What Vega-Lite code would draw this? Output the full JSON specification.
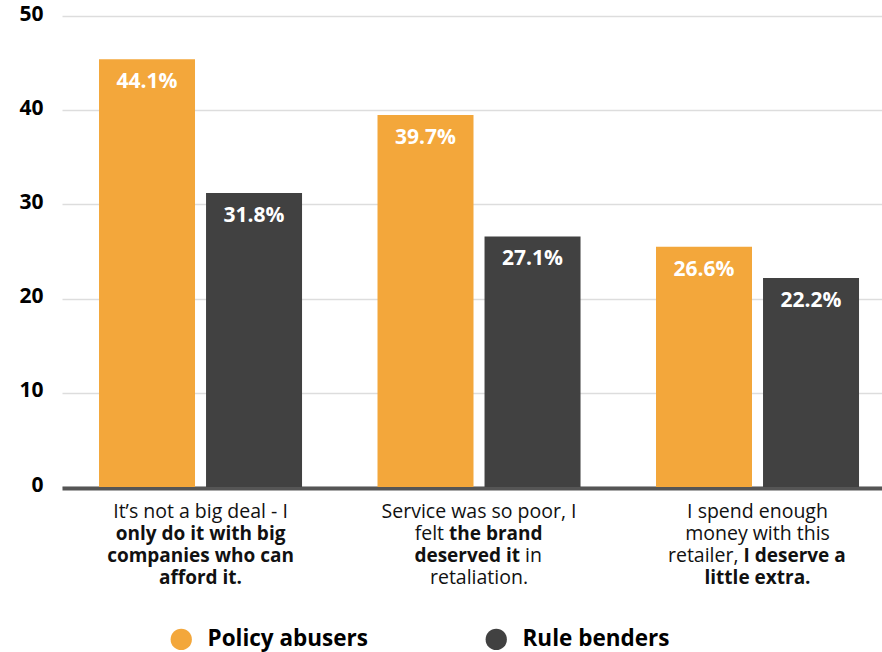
{
  "$schema": "https://vega.github.io/schema/vega-lite/v6.json",
  "width": 820,
  "height": 471,
  "autosize": {"type": "none"},
  "padding": {"left": 62, "top": 16, "right": 0, "bottom": 165},
  "background": "white",
  "config": {
    "font": "Open Sans",
    "view": {"stroke": null},
    "axisX": {"labels": false, "ticks": false, "grid": false, "domainColor": "#555555", "domainWidth": 4, "offset": 1},
    "axisY": {"ticks": false, "tickSize": 0, "domain": false, "grid": true, "gridColor": "#dddddd", "gridWidth": 1.5, "labelFont": "Open Sans", "labelFontWeight": "bold", "labelFontSize": 21, "labelColor": "#000000", "labelPadding": 19, "labelBaseline": "middle", "labelOffset": -2}
  },
  "datasets": {
    "bars": [
      {"reason": "It’s not a big deal - I only do it with big companies who can afford it.", "group": "Policy abusers", "value": 45.4, "label": "44.1%"},
      {"reason": "It’s not a big deal - I only do it with big companies who can afford it.", "group": "Rule benders", "value": 31.2, "label": "31.8%"},
      {"reason": "Service was so poor, I felt the brand deserved it in retaliation.", "group": "Policy abusers", "value": 39.5, "label": "39.7%"},
      {"reason": "Service was so poor, I felt the brand deserved it in retaliation.", "group": "Rule benders", "value": 26.6, "label": "27.1%"},
      {"reason": "I spend enough money with this retailer, I deserve a little extra.", "group": "Policy abusers", "value": 25.5, "label": "26.6%"},
      {"reason": "I spend enough money with this retailer, I deserve a little extra.", "group": "Rule benders", "value": 22.2, "label": "22.2%"}
    ],
    "regularTop": [
      {"reason": "It’s not a big deal - I only do it with big companies who can afford it.", "text": "It’s not a big deal - I"},
      {"reason": "Service was so poor, I felt the brand deserved it in retaliation.", "text": "Service was so poor, I"},
      {"reason": "I spend enough money with this retailer, I deserve a little extra.", "text": "I spend enough\nmoney with this"}
    ],
    "boldSecond": [
      {"reason": "It’s not a big deal - I only do it with big companies who can afford it.", "text": "only do it with big\ncompanies who can\nafford it."}
    ]
  },
  "layer": [
    {
      "data": {"name": "bars"},
      "mark": {"type": "bar"},
      "encoding": {
        "x": {"field": "reason", "type": "nominal", "sort": null, "title": null, "scale": {"paddingInner": 0.271, "paddingOuter": 0.1077, "align": 0.617}},
        "xOffset": {"field": "group", "type": "nominal", "sort": null, "scale": {"paddingInner": 0.103, "paddingOuter": 0}},
        "y": {"field": "value", "type": "quantitative", "title": null, "scale": {"domain": [0, 50], "nice": false}, "axis": {"values": [0, 10, 20, 30, 40, 50]}},
        "color": {
          "field": "group", "type": "nominal", "sort": null,
          "scale": {"domain": ["Policy abusers", "Rule benders"], "range": ["#F3A73B", "#414141"]},
          "legend": {"orient": "none", "legendX": 108, "legendY": 612, "direction": "horizontal", "title": null, "symbolType": "circle", "symbolSize": 452, "symbolStrokeWidth": 0, "labelFontSize": 22.5, "labelFontWeight": "bold", "labelColor": "#000000", "labelOffset": 15, "columnPadding": 117, "padding": 0, "labelLimit": 400}
        }
      }
    },
    {
      "data": {"name": "bars"},
      "mark": {"type": "text", "color": "white", "fontWeight": "bold", "fontSize": 21, "baseline": "middle", "align": "center", "dy": 23},
      "encoding": {
        "x": {"field": "reason", "type": "nominal", "sort": null, "title": null},
        "xOffset": {"field": "group", "type": "nominal", "sort": null},
        "y": {"field": "value", "type": "quantitative", "title": null},
        "text": {"field": "label", "type": "nominal"}
      }
    },
    {
      "data": {"name": "regularTop"},
      "mark": {"type": "text", "lineBreak": "\n", "lineHeight": 22, "fontSize": 19.5, "color": "#111111", "baseline": "alphabetic", "align": "center", "dy": 31},
      "encoding": {
        "x": {"field": "reason", "type": "nominal", "sort": null, "title": null},
        "y": {"datum": 0, "type": "quantitative", "title": null},
        "text": {"field": "text", "type": "nominal"}
      }
    },
    {
      "data": {"name": "boldSecond"},
      "mark": {"type": "text", "lineBreak": "\n", "lineHeight": 22, "fontSize": 19, "fontWeight": "bold", "color": "#111111", "baseline": "alphabetic", "align": "center", "dy": 53},
      "encoding": {
        "x": {"field": "reason", "type": "nominal", "sort": null, "title": null},
        "y": {"datum": 0, "type": "quantitative", "title": null},
        "text": {"field": "text", "type": "nominal"}
      }
    },
    {
      "data": {"values": [{"reason": "Service was so poor, I felt the brand deserved it in retaliation.", "text": "retaliation."}]},
      "mark": {"type": "text", "fontSize": 19.5, "color": "#111111", "baseline": "alphabetic", "align": "center", "dy": 97},
      "encoding": {
        "x": {"field": "reason", "type": "nominal", "sort": null, "title": null},
        "y": {"datum": 0, "type": "quantitative", "title": null},
        "text": {"field": "text", "type": "nominal"}
      }
    },
    {
      "data": {"values": [{"reason": "I spend enough money with this retailer, I deserve a little extra.", "text": "little extra."}]},
      "mark": {"type": "text", "fontSize": 19, "fontWeight": "bold", "color": "#111111", "baseline": "alphabetic", "align": "center", "dy": 97},
      "encoding": {
        "x": {"field": "reason", "type": "nominal", "sort": null, "title": null},
        "y": {"datum": 0, "type": "quantitative", "title": null},
        "text": {"field": "text", "type": "nominal"}
      }
    },
    {
      "data": {"values": [{"reason": "Service was so poor, I felt the brand deserved it in retaliation.", "text": "felt"}]},
      "mark": {"type": "text", "fontSize": 19.5, "color": "#111111", "baseline": "alphabetic", "align": "right", "dx": -35, "dy": 53},
      "encoding": {
        "x": {"field": "reason", "type": "nominal", "sort": null, "title": null},
        "y": {"datum": 0, "type": "quantitative", "title": null},
        "text": {"field": "text", "type": "nominal"}
      }
    },
    {
      "data": {"values": [{"reason": "Service was so poor, I felt the brand deserved it in retaliation.", "text": "the brand"}]},
      "mark": {"type": "text", "fontSize": 19, "fontWeight": "bold", "color": "#111111", "baseline": "alphabetic", "align": "left", "dx": -30, "dy": 53},
      "encoding": {
        "x": {"field": "reason", "type": "nominal", "sort": null, "title": null},
        "y": {"datum": 0, "type": "quantitative", "title": null},
        "text": {"field": "text", "type": "nominal"}
      }
    },
    {
      "data": {"values": [{"reason": "Service was so poor, I felt the brand deserved it in retaliation.", "text": "deserved it"}]},
      "mark": {"type": "text", "fontSize": 19, "fontWeight": "bold", "color": "#111111", "baseline": "alphabetic", "align": "right", "dx": 41, "dy": 75},
      "encoding": {
        "x": {"field": "reason", "type": "nominal", "sort": null, "title": null},
        "y": {"datum": 0, "type": "quantitative", "title": null},
        "text": {"field": "text", "type": "nominal"}
      }
    },
    {
      "data": {"values": [{"reason": "Service was so poor, I felt the brand deserved it in retaliation.", "text": "in"}]},
      "mark": {"type": "text", "fontSize": 19.5, "color": "#111111", "baseline": "alphabetic", "align": "left", "dx": 46, "dy": 75},
      "encoding": {
        "x": {"field": "reason", "type": "nominal", "sort": null, "title": null},
        "y": {"datum": 0, "type": "quantitative", "title": null},
        "text": {"field": "text", "type": "nominal"}
      }
    },
    {
      "data": {"values": [{"reason": "I spend enough money with this retailer, I deserve a little extra.", "text": "retailer,"}]},
      "mark": {"type": "text", "fontSize": 19.5, "color": "#111111", "baseline": "alphabetic", "align": "right", "dx": -19, "dy": 75},
      "encoding": {
        "x": {"field": "reason", "type": "nominal", "sort": null, "title": null},
        "y": {"datum": 0, "type": "quantitative", "title": null},
        "text": {"field": "text", "type": "nominal"}
      }
    },
    {
      "data": {"values": [{"reason": "I spend enough money with this retailer, I deserve a little extra.", "text": "I deserve a"}]},
      "mark": {"type": "text", "fontSize": 19, "fontWeight": "bold", "color": "#111111", "baseline": "alphabetic", "align": "left", "dx": -14, "dy": 75},
      "encoding": {
        "x": {"field": "reason", "type": "nominal", "sort": null, "title": null},
        "y": {"datum": 0, "type": "quantitative", "title": null},
        "text": {"field": "text", "type": "nominal"}
      }
    }
  ]
}
